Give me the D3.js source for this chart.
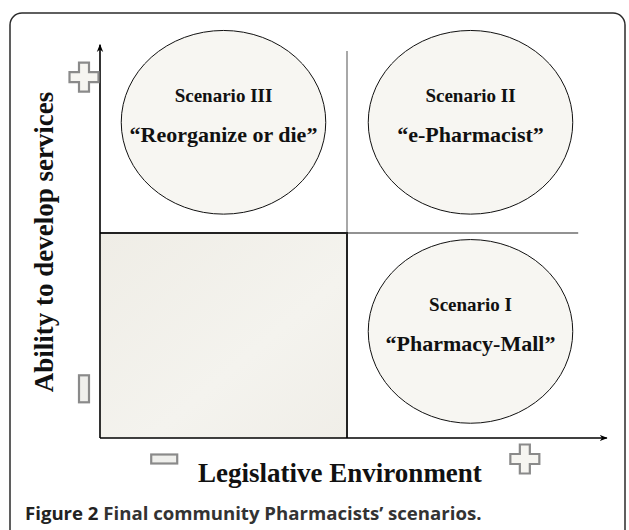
<!DOCTYPE html>
<html>
<head>
<meta charset="utf-8">
<script src="https://cdn.jsdelivr.net/npm/d3@7"></script>
<style>
  body { margin: 0; background: #fff; }
  svg { display: block; }
  .serif { font-family: "Liberation Serif", "Times New Roman", serif; font-weight: bold; fill: #111; }
</style>
</head>
<body>
<svg width="629" height="530"></svg>
<script>
// scenarios, one per quadrant
var scenarios = ["Scenario III", "Scenario II", "Scenario I"];
var nicknames = ["\u201cReorganize or die\u201d", "\u201ce-Pharmacist\u201d", "\u201cPharmacy-Mall\u201d"];
var legislative = [0.25, 0.75, 0.75];   // x position of each scenario
var ability = [0.77, 0.77, 0.26];       // y position of each scenario

// plus / minus "tick labels" on both axes
var tickSigns = ["-", "+"];
var xTickValues = [0.13, 0.86];
var yTickValues = [0.12, 0.88];

var xLabel = "Legislative Environment",
    yLabel = "Ability to develop services",
    caption = ["Figure 2", " Final community Pharmacists\u2019 scenarios."];

var svg = d3.select("svg");

var x = d3.scaleLinear().domain([0, 1]).range([100, 594]),
    y = d3.scaleLinear().domain([0, 1]).range([438, 28]);

var defs = svg.append("defs");
var grad = defs.append("linearGradient").attr("id", "shade")
    .attr("x1", "0%").attr("y1", "0%").attr("x2", "100%").attr("y2", "100%");
grad.append("stop").attr("offset", "0%").attr("stop-color", "#efede6");
grad.append("stop").attr("offset", "60%").attr("stop-color", "#f4f3ee");
grad.append("stop").attr("offset", "100%").attr("stop-color", "#f0eee8");

defs.append("marker").attr("id", "arrow")
    .attr("viewBox", "0 0 10 10").attr("refX", 9).attr("refY", 5)
    .attr("markerWidth", 5).attr("markerHeight", 5)
    .attr("orient", "auto")
    .append("path").attr("d", "M0,1 L10,5 L0,9 L3,5 Z").attr("fill", "#000");

// outer frame
svg.append("rect")
    .attr("x", 10).attr("y", 13).attr("width", 615).attr("height", 560)
    .attr("rx", 12)
    .attr("fill", "none").attr("stroke", "#2b2b2b").attr("stroke-width", 1.5);

// low / low quadrant
svg.append("rect")
    .attr("x", x(0)).attr("y", y(0.5))
    .attr("width", x(0.5) - x(0)).attr("height", y(0) - y(0.5))
    .attr("fill", "url(#shade)");

// dividers
svg.append("line")
    .attr("x1", x(0.5)).attr("x2", x(0.968)).attr("y1", y(0.5)).attr("y2", y(0.5))
    .attr("stroke", "#6e6e6e").attr("stroke-width", 1.5);
svg.append("line")
    .attr("x1", x(0.5)).attr("x2", x(0.5)).attr("y1", y(0.944)).attr("y2", y(0.5))
    .attr("stroke", "#6e6e6e").attr("stroke-width", 1.2);
svg.append("path")
    .attr("d", "M" + x(0) + "," + y(0.5) + "H" + x(0.5) + "V" + y(0))
    .attr("fill", "none").attr("stroke", "#222").attr("stroke-width", 2);

// axes
svg.append("line")
    .attr("x1", x(0)).attr("y1", y(0)).attr("x2", x(0)).attr("y2", y(0.959))
    .attr("stroke", "#000").attr("stroke-width", 1.6).attr("marker-end", "url(#arrow)");
svg.append("line")
    .attr("x1", x(0)).attr("y1", y(0)).attr("x2", x(1.026)).attr("y2", y(0))
    .attr("stroke", "#000").attr("stroke-width", 1.6).attr("marker-end", "url(#arrow)");

// scenario ellipses
var rx = x(0.207) - x(0), ry = y(0) - y(0.224);
var sc = svg.selectAll(".scenario")
    .data(scenarios)
    .enter().append("g")
    .attr("class", "scenario")
    .attr("transform", function (d, i) {
        return "translate(" + x(legislative[i]) + "," + y(ability[i]) + ")";
    });
sc.append("ellipse")
    .attr("rx", rx).attr("ry", ry)
    .attr("fill", "#f7f6f2").attr("stroke", "#111").attr("stroke-width", 1);
sc.append("text")
    .attr("class", "serif")
    .attr("text-anchor", "middle")
    .attr("y", -20)
    .style("font-size", "19px")
    .text(function (d) { return d; });
sc.append("text")
    .attr("class", "serif")
    .attr("text-anchor", "middle")
    .attr("y", 20)
    .style("font-size", "22px")
    .text(function (d, i) { return nicknames[i]; });

// plus / minus signs
function sign(g, s, vertical) {
    if (s === "+") {
        var a = 14.5, b = 5;
        g.append("path")
            .attr("d", "M" + -b + "," + -a + "H" + b + "V" + -b + "H" + a + "V" + b + "H" + b + "V" + a +
                "H" + -b + "V" + b + "H" + -a + "V" + -b + "H" + -b + "Z")
            .attr("fill", "#f6f5f1").attr("stroke", "#8a8a8a").attr("stroke-width", 2.2);
    } else {
        var w = vertical ? 10 : 26, h = vertical ? 27 : 9;
        g.append("rect")
            .attr("x", -w / 2).attr("y", -h / 2).attr("width", w).attr("height", h)
            .attr("fill", "#efefec").attr("stroke", "#8a8a8a").attr("stroke-width", 2.2);
    }
}
svg.selectAll(".xsign")
    .data(xTickValues)
    .enter().append("g")
    .attr("class", "xsign")
    .attr("transform", function (d) { return "translate(" + x(d) + ",459)"; })
    .each(function (d, i) { sign(d3.select(this), tickSigns[i], false); });
svg.selectAll(".ysign")
    .data(yTickValues)
    .enter().append("g")
    .attr("class", "ysign")
    .attr("transform", function (d) { return "translate(84," + y(d) + ")"; })
    .each(function (d, i) { sign(d3.select(this), tickSigns[i], true); });

// axis titles
svg.append("text")
    .attr("class", "serif")
    .attr("text-anchor", "middle")
    .attr("x", 340).attr("y", 482)
    .style("font-size", "27px")
    .text(xLabel);
svg.append("text")
    .attr("class", "serif")
    .attr("text-anchor", "middle")
    .attr("transform", "translate(53,242) rotate(-90)")
    .style("font-size", "27px")
    .text(yLabel);

// caption
var cap = svg.append("text")
    .attr("x", 25).attr("y", 520)
    .style("font-family", "'Open Sans', sans-serif")
    .style("font-size", "18.6px")
    .attr("fill", "#222");
cap.append("tspan").style("font-weight", 700).text(caption[0]);
cap.append("tspan").style("font-weight", 700).attr("fill", "#333").text(caption[1]);
</script>
</body>
</html>
